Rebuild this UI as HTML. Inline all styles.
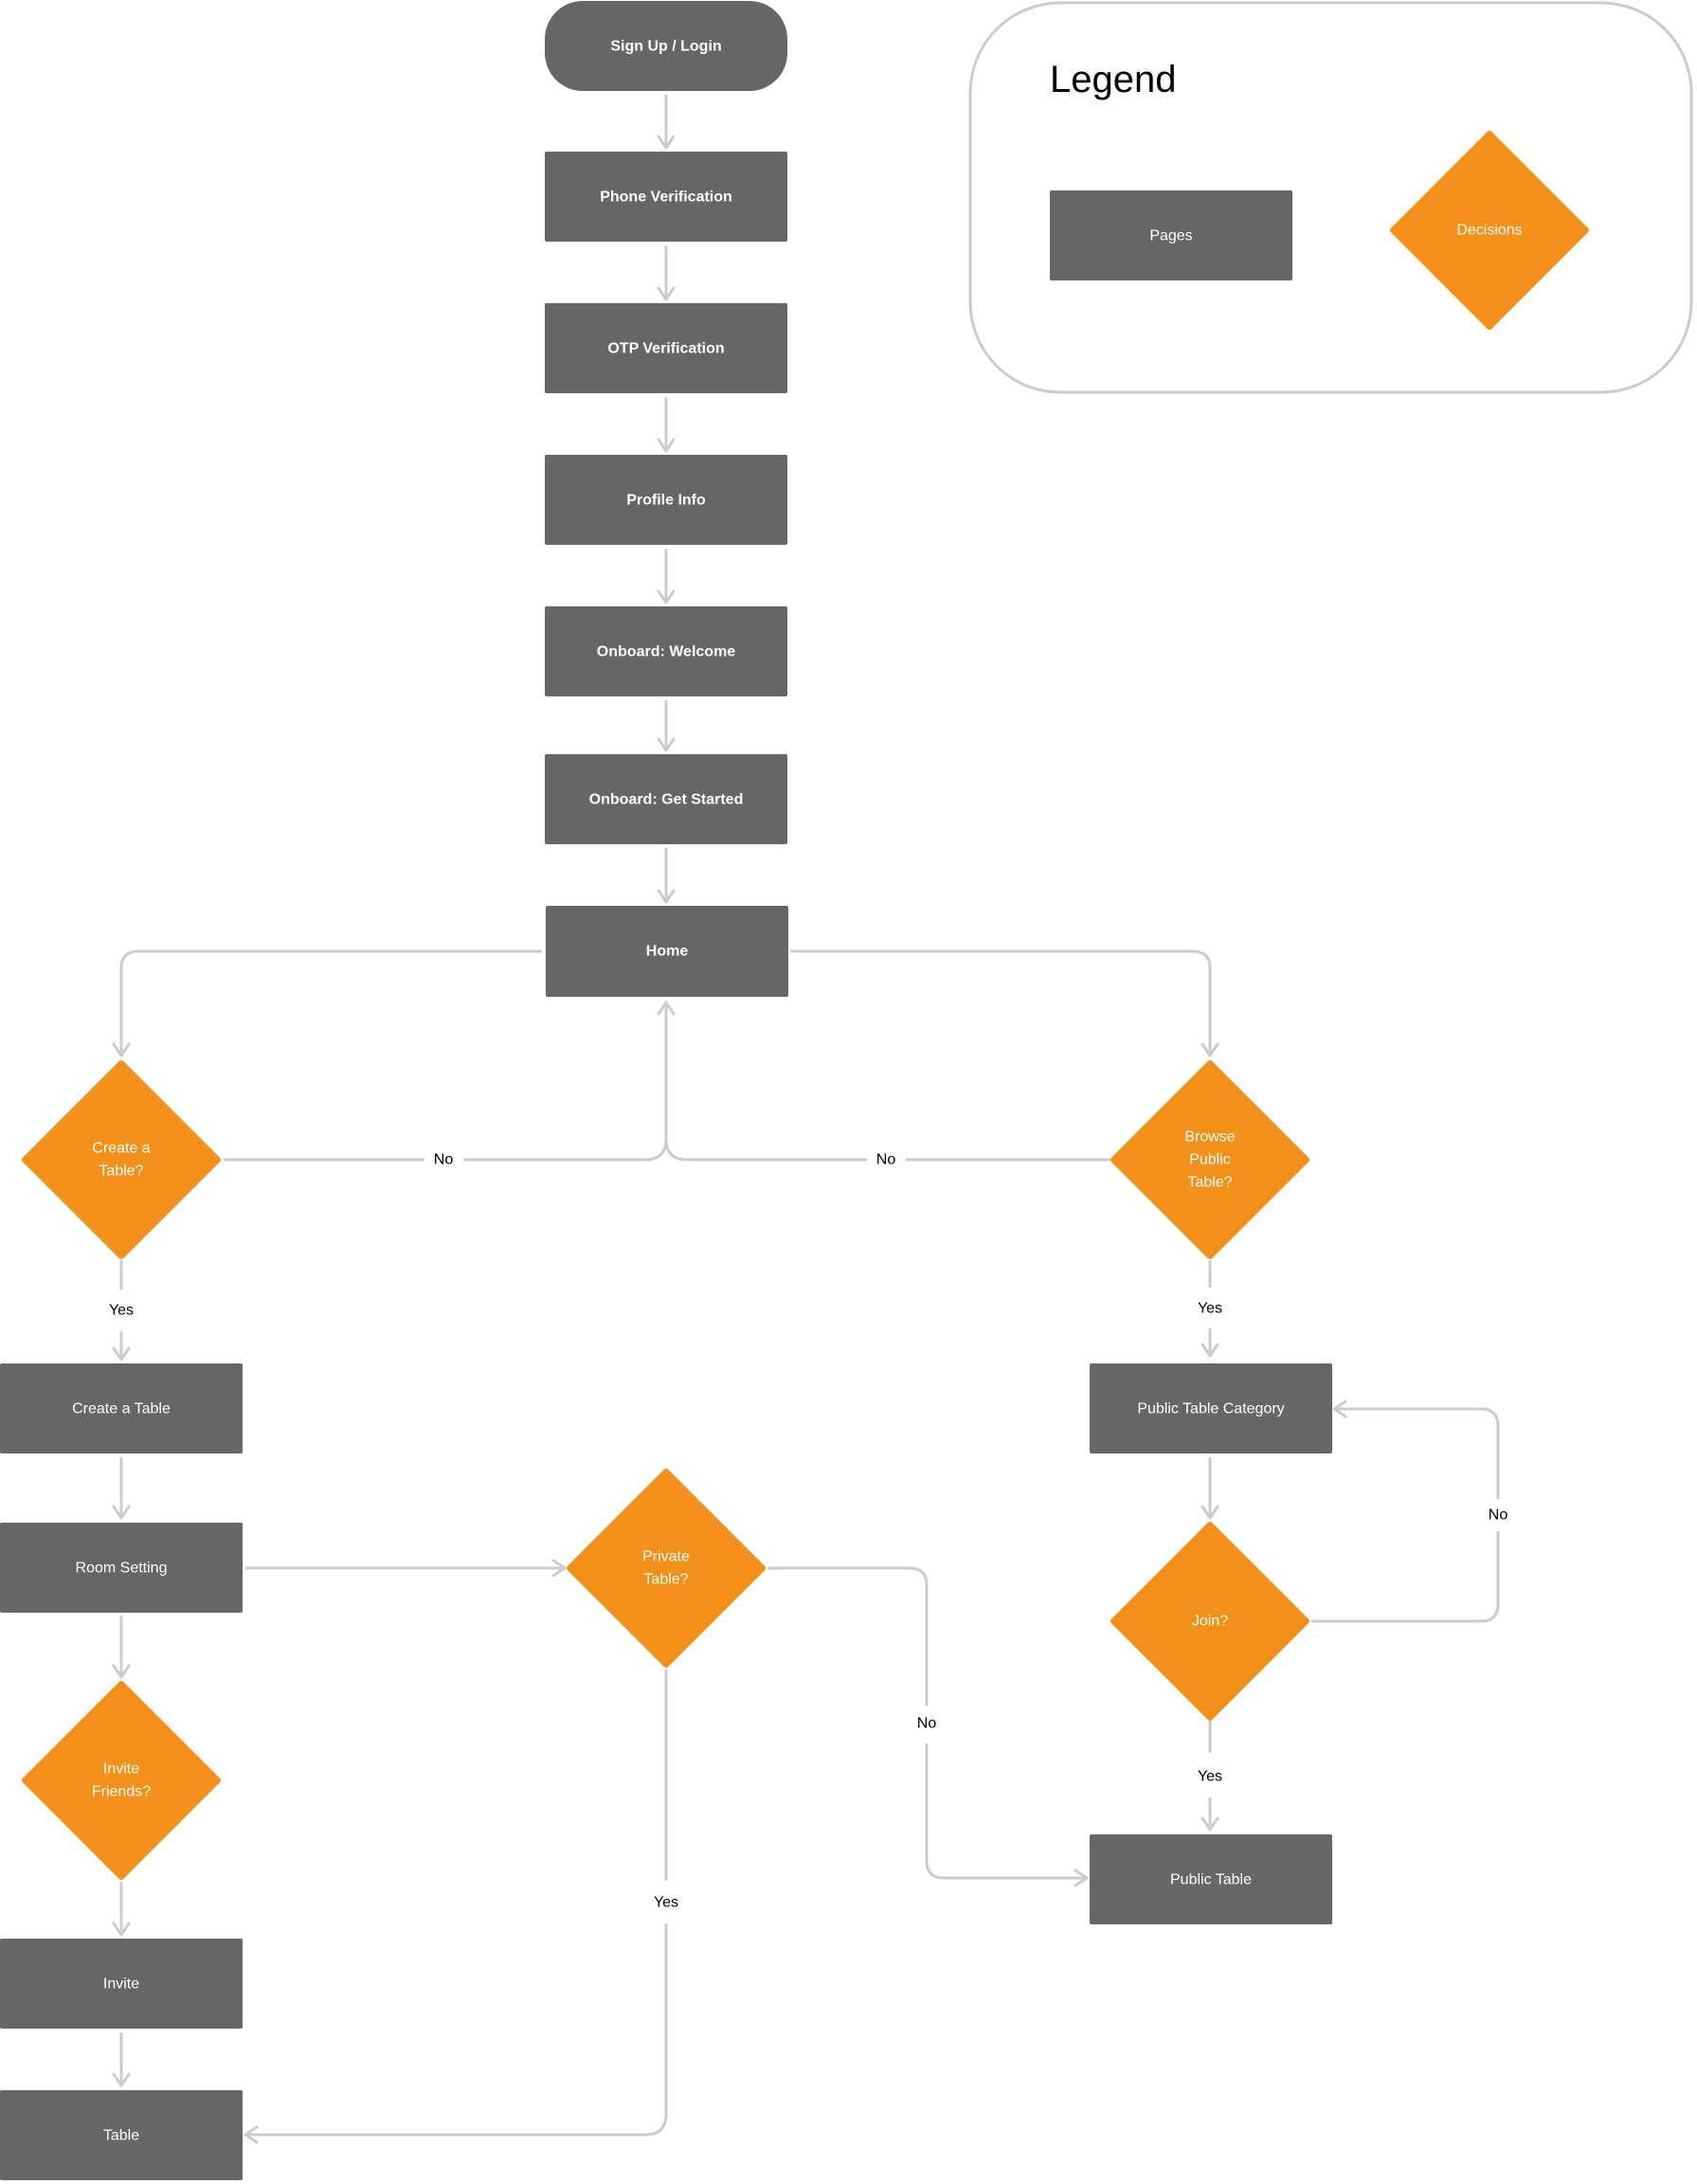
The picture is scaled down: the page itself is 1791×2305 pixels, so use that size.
<!DOCTYPE html>
<html><head><meta charset="utf-8"><style>
html,body{margin:0;padding:0;background:#fff;width:1791px;height:2305px;overflow:hidden}
svg{display:block}
text{font-family:"Liberation Sans",Arial,sans-serif}
</style></head><body>
<svg width="1791" height="2305" viewBox="0 0 1791 2305" xmlns="http://www.w3.org/2000/svg">
<defs>
<marker id="ah" viewBox="0 0 20 20" refX="18" refY="10" markerWidth="20" markerHeight="20" markerUnits="userSpaceOnUse" orient="auto">
<path d="M6 2 L18 10 L6 18" fill="none" stroke="#cccccc" stroke-width="3" stroke-linecap="round" stroke-linejoin="round"/>
</marker>
</defs>
<g fill="none" stroke="#cccccc" stroke-width="3">
<!-- main column arrows -->
<path d="M703 100 V156" marker-end="url(#ah)"/>
<path d="M703 259 V316" marker-end="url(#ah)"/>
<path d="M703 419 V476" marker-end="url(#ah)"/>
<path d="M703 579 V636" marker-end="url(#ah)"/>
<path d="M703 739 V792" marker-end="url(#ah)"/>
<path d="M703 895 V952" marker-end="url(#ah)"/>
<!-- Home to diamonds -->
<path d="M572 1004 H146 Q128 1004 128 1022 V1114" marker-end="url(#ah)"/>
<path d="M834 1004 H1259 Q1277 1004 1277 1022 V1114" marker-end="url(#ah)"/>
<!-- No lines back to home -->
<path d="M236 1224 H448"/>
<path d="M489 1224 H681 Q703 1224 703 1202 V1058" marker-end="url(#ah)"/>
<path d="M1172 1224 H956"/>
<path d="M915 1224 H725 Q703 1224 703 1202"/>
<!-- Left yes -->
<path d="M128 1330 V1361"/>
<path d="M128 1405 V1435" marker-end="url(#ah)"/>
<path d="M128 1538 V1602" marker-end="url(#ah)"/>
<path d="M128 1705 V1770" marker-end="url(#ah)"/>
<path d="M128 1986 V2042" marker-end="url(#ah)"/>
<path d="M128 2145 V2201" marker-end="url(#ah)"/>
<!-- Room setting to private -->
<path d="M259 1655 H596" marker-end="url(#ah)"/>
<!-- Private no -->
<path d="M810 1655 H960 Q978 1655 978 1673 V1800"/>
<path d="M978 1840 V1964 Q978 1982 996 1982 H1147" marker-end="url(#ah)"/>
<!-- Private yes -->
<path d="M703 1762 V1985"/>
<path d="M703 2030 V2231 Q703 2253 681 2253 H259" marker-end="url(#ah)"/>
<!-- Right yes -->
<path d="M1277 1330 V1359"/>
<path d="M1277 1402 V1431" marker-end="url(#ah)"/>
<path d="M1277 1538 V1602" marker-end="url(#ah)"/>
<!-- Join no -->
<path d="M1384 1711 H1563 Q1581 1711 1581 1693 V1616"/>
<path d="M1581 1582 V1505 Q1581 1487 1563 1487 H1408" marker-end="url(#ah)"/>
<!-- Join yes -->
<path d="M1277 1816 V1850"/>
<path d="M1277 1897 V1931" marker-end="url(#ah)"/>
<!-- Legend box -->
<rect x="1024" y="3" width="761" height="411" rx="95" ry="95"/>
</g>

<!-- boxes -->
<g fill="#666666">
<rect x="575" y="1" width="256" height="95" rx="40"/>
<rect x="575" y="160" width="256" height="95" rx="2"/>
<rect x="575" y="320" width="256" height="95" rx="2"/>
<rect x="575" y="480" width="256" height="95" rx="2"/>
<rect x="575" y="640" width="256" height="95" rx="2"/>
<rect x="575" y="796" width="256" height="95" rx="2"/>
<rect x="576" y="956" width="256" height="96" rx="2"/>
<rect x="1108" y="201" width="256" height="95" rx="2"/>
<rect x="0" y="1439" width="256" height="95" rx="2"/>
<rect x="0" y="1607" width="256" height="95" rx="2"/>
<rect x="0" y="2046" width="256" height="95" rx="2"/>
<rect x="0" y="2206" width="256" height="95" rx="2"/>
<rect x="1150" y="1439" width="256" height="95" rx="2"/>
<rect x="1150" y="1936" width="256" height="95" rx="2"/>
</g>
<!-- diamonds -->
<g fill="#f39019" stroke="#f39019" stroke-width="6" stroke-linejoin="round">
<path d="M1572 141 L1674 243 L1572 345 L1470 243 Z"/>
<path d="M128 1122 L230 1224 L128 1326 L26 1224 Z"/>
<path d="M1277 1122 L1379 1224 L1277 1326 L1175 1224 Z"/>
<path d="M703 1553 L805 1655 L703 1757 L601 1655 Z"/>
<path d="M1277 1609 L1379 1711 L1277 1813 L1175 1711 Z"/>
<path d="M128 1777 L230 1879 L128 1981 L26 1879 Z"/>
</g>

<g fill="#ffffff" font-size="16" text-anchor="middle" dominant-baseline="central">
<g font-weight="bold">
<text x="703" y="49">Sign Up / Login</text>
<text x="703" y="208">Phone Verification</text>
<text x="703" y="368">OTP Verification</text>
<text x="703" y="528">Profile Info</text>
<text x="703" y="688">Onboard: Welcome</text>
<text x="703" y="844">Onboard: Get Started</text>
<text x="704" y="1004">Home</text>
</g>
<text x="1236" y="249">Pages</text>
<text x="1572" y="243">Decisions</text>
<text x="128" y="1487">Create a Table</text>
<text x="128" y="1655">Room Setting</text>
<text x="128" y="2094">Invite</text>
<text x="128" y="2254">Table</text>
<text x="1278" y="1487">Public Table Category</text>
<text x="1278" y="1984">Public Table</text>
<text x="128" y="1212">Create a</text>
<text x="128" y="1236">Table?</text>
<text x="1277" y="1200">Browse</text>
<text x="1277" y="1224">Public</text>
<text x="1277" y="1248">Table?</text>
<text x="703" y="1643">Private</text>
<text x="703" y="1667">Table?</text>
<text x="1277" y="1711">Join?</text>
<text x="128" y="1867">Invite</text>
<text x="128" y="1891">Friends?</text>
</g>

<g fill="#000" font-size="16" text-anchor="middle" dominant-baseline="central">
<text x="468" y="1224">No</text>
<text x="935" y="1224">No</text>
<text x="128" y="1383">Yes</text>
<text x="1277" y="1381">Yes</text>
<text x="1581" y="1599">No</text>
<text x="978" y="1819">No</text>
<text x="1277" y="1875">Yes</text>
<text x="703" y="2008">Yes</text>
</g>
<text x="1108" y="84" font-size="40" fill="#000" dominant-baseline="central">Legend</text>
</svg>
</body></html>
